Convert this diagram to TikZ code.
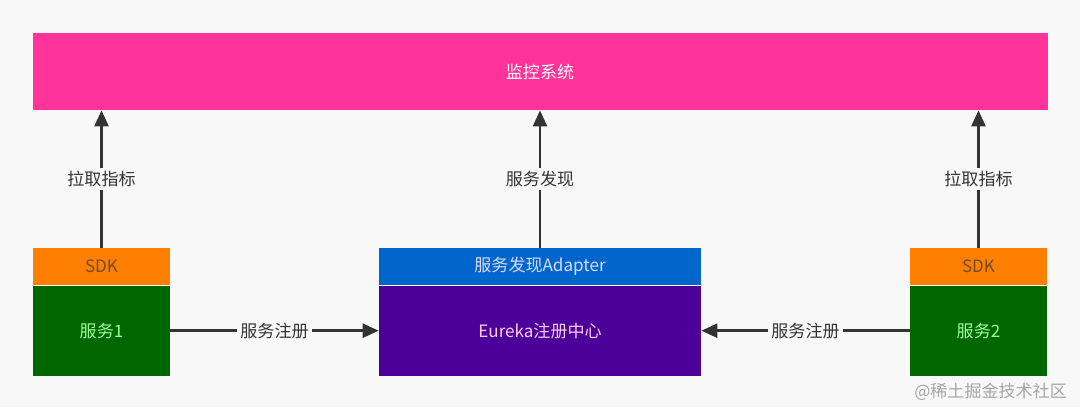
\documentclass[tikz,border=0pt]{standalone}
\usepackage{fontspec}
\setmainfont{Noto Sans CJK SC}
\usepackage{xcolor}
\usetikzlibrary{positioning,arrows.meta}
\definecolor{page}{HTML}{F8F8F8}
\definecolor{monpink}{HTML}{FF3399}
\definecolor{sdkorange}{HTML}{FF8000}
\definecolor{svcgreen}{HTML}{006600}
\definecolor{adpblue}{HTML}{0066CC}
\definecolor{eurpurple}{HTML}{4C0099}
\definecolor{ink}{HTML}{333333}

\begin{document}
\begin{tikzpicture}[
  blk/.style={draw=none,inner sep=0pt,minimum height=7.4mm,font=\fontsize{9.7}{11}\selectfont},
  sdk/.style={blk,fill=sdkorange,text=brown!60!black,minimum width=27.4mm},
  svc/.style={blk,fill=svcgreen,text=green!40,minimum width=27.4mm,minimum height=18mm},
  lbl/.style={fill=page,inner sep=2pt,text=ink,font=\fontsize{9.7}{11}\selectfont},
  arr/.style={-{Triangle[length=3.2mm,width=2.8mm]},color=ink,line width=1.4pt}]
\fill[page] (0,0) rectangle (21.6,8.14);
\node[blk,fill=monpink,text=white,minimum width=203mm,minimum height=15.4mm] (mon) at (10.8,6.71) {监控系统};
\node[sdk] (sdkA) at (2.03,2.81) {SDK};
\node[svc,below=0mm of sdkA] (svcA) {服务1};
\node[blk,fill=adpblue,text=blue!15,minimum width=64.4mm] (adp) at (10.8,2.81) {服务发现Adapter};
\node[blk,fill=eurpurple,text=magenta!20,minimum width=64.4mm,minimum height=18mm,below=0mm of adp] (eur) {Eureka注册中心};
\node[sdk] (sdkB) at (19.57,2.81) {SDK};
\node[svc,below=0mm of sdkB] (svcB) {服务2};
\draw[arr] (sdkA.north) -- node[lbl] {拉取指标} (sdkA.north |- mon.south);
\draw[arr] (adp.north) -- node[lbl] {服务发现} (adp.north |- mon.south);
\draw[arr] (sdkB.north) -- node[lbl] {拉取指标} (sdkB.north |- mon.south);
\draw[arr] (svcA.east) -- node[lbl] {服务注册} (eur.west);
\draw[arr] (svcB.west) -- node[lbl] {服务注册} (eur.east);
\node[anchor=east,text=gray!70,font=\fontsize{9.7}{11}\selectfont] (mark) at (21.46,0.3) {@稀土掘金技术社区};
\end{tikzpicture}
\end{document}
